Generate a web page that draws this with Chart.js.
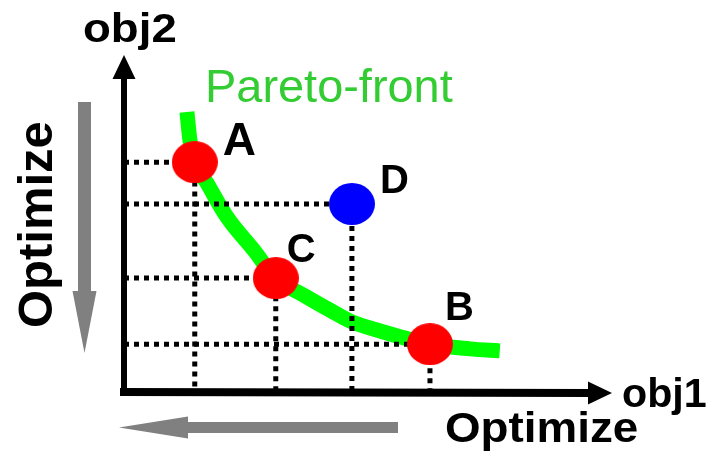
<!DOCTYPE html>
<html lang="en">
<head>
<meta charset="UTF-8">
<title>Pareto-front</title>
<script src="https://cdn.jsdelivr.net/npm/chart.js"></script>
<style>
  html, body { margin: 0; padding: 0; background: #fff; }
</style>
</head>
<body>
<canvas id="pareto" width="715" height="453"></canvas>
<script>
// solutions in objective space (both objectives minimised), axes run 0..100
const pointNames = ['A', 'B', 'C', 'D'];
const obj1Values = [14.5, 62.7, 31.1, 46.7];
const obj2Values = [68.2, 14.2, 33.8, 55.8];
const pointColors = ['#ff0000', '#ff0000', '#ff0000', '#0000ff'];

// samples along the Pareto-front curve
const frontObj1 = [12.9, 13.5, 14.5, 17.0, 21.1, 26.6, 31.1, 37.1, 42.2, 46.7, 52.5, 62.7, 70.9, 77.0];
const frontObj2 = [83.1, 74.8, 68.2, 62.0, 51.9, 42.1, 33.8, 28.5, 24.3, 20.8, 18.1, 14.2, 12.8, 12.2];

const FONT = '"Liberation Sans", Arial, Helvetica, sans-serif';

// filled ellipse used as point marker
function ellipseMarker(color) {
    const c = document.createElement('canvas');
    c.width = 46;
    c.height = 42;
    const g = c.getContext('2d');
    g.fillStyle = color;
    g.beginPath();
    g.ellipse(23, 21, 23, 21, 0, 0, Math.PI * 2);
    g.fill();
    return c;
}

// one dotted guide per point: from the obj2 axis to the point, then down to the obj1 axis
const guideSets = pointNames.map((name, i) => ({
    type: 'line',
    label: 'guide ' + name,
    data: [
        { x: 0, y: obj2Values[i] },
        { x: obj1Values[i], y: obj2Values[i] },
        { x: obj1Values[i], y: 0 }
    ],
    borderColor: '#000',
    borderWidth: 5,
    borderDash: [5, 5],
    borderCapStyle: 'butt',
    pointRadius: 0,
    tension: 0,
    clip: false,
    order: 2
}));

function arrow(ctx, x0, y0, x1, y1, shaftW, headLen, headHalf, color) {
    const dx = x1 - x0, dy = y1 - y0;
    const len = Math.hypot(dx, dy);
    const ux = dx / len, uy = dy / len;
    const bx = x1 - ux * headLen, by = y1 - uy * headLen;
    ctx.save();
    ctx.strokeStyle = color;
    ctx.fillStyle = color;
    ctx.lineWidth = shaftW;
    ctx.lineCap = 'butt';
    ctx.beginPath();
    ctx.moveTo(x0, y0);
    ctx.lineTo(bx + ux, by + uy);
    ctx.stroke();
    ctx.beginPath();
    ctx.moveTo(x1, y1);
    ctx.lineTo(bx - uy * headHalf, by + ux * headHalf);
    ctx.lineTo(bx + uy * headHalf, by - ux * headHalf);
    ctx.closePath();
    ctx.fill();
    ctx.restore();
}

// text drawn from its left end on the baseline, with optional horizontal stretch
function stretchText(ctx, str, x, y, font, color, sx, angle) {
    ctx.save();
    ctx.translate(x, y);
    if (angle) ctx.rotate(angle);
    ctx.scale(sx || 1, 1);
    ctx.font = font;
    ctx.fillStyle = color;
    ctx.textAlign = 'left';
    ctx.textBaseline = 'alphabetic';
    ctx.fillText(str, 0, 0);
    ctx.restore();
}

const decor = {
    id: 'decor',
    afterDraw(chart) {
        const ctx = chart.ctx;
        const xs = chart.scales.x, ys = chart.scales.y;
        const ox = xs.getPixelForValue(0), oy = ys.getPixelForValue(0);

        // objective axes
        arrow(ctx, ox, oy + 4, ox, ys.getPixelForValue(100), 6, 24, 11.5, '#000');
        arrow(ctx, ox - 4, oy, xs.getPixelForValue(100), oy + 1, 8, 24, 11.5, '#000');

        // optimisation direction arrows
        arrow(ctx, 84.5, 102, 84.5, 353, 13, 62, 12, '#808080');
        arrow(ctx, 398, 427.5, 119, 427.5, 11, 69, 11, '#808080');

        stretchText(ctx, 'obj2', 83, 42, 'bold 40px ' + FONT, '#000', 1.14);
        stretchText(ctx, 'obj1', 622, 407, 'bold 40px ' + FONT, '#000', 1.03);
        stretchText(ctx, 'Pareto-front', 205, 102, '46px ' + FONT, 'rgb(51,204,51)', 1.02);
        stretchText(ctx, 'Optimize', 445, 442, 'bold 42px ' + FONT, '#000', 1.09);
        stretchText(ctx, 'Optimize', 52, 328, 'bold 48px ' + FONT, '#000', 1.02, -Math.PI / 2);

        // point names next to each marker
        const meta = chart.getDatasetMeta(0);
        const offsets = [[28, -7, 46], [15, -24, 40], [11, -16, 40], [28, -11, 40]];
        meta.data.forEach((pt, i) => {
            const [dx, dy, size] = offsets[i];
            stretchText(ctx, pointNames[i], pt.x + dx, pt.y + dy, 'bold ' + size + 'px ' + FONT, '#000', 1.0);
        });
    }
};

new Chart(document.getElementById('pareto'), {
    type: 'scatter',
    data: {
        datasets: [
            {
                label: 'solutions',
                data: obj1Values.map((x, i) => ({ x: x, y: obj2Values[i] })),
                pointStyle: pointColors.map(ellipseMarker),
                backgroundColor: pointColors,
                showLine: false,
                clip: false,
                order: 0
            },
            ...guideSets,
            {
                type: 'line',
                label: 'Pareto-front',
                data: frontObj1.map((x, i) => ({ x: x, y: frontObj2[i] })),
                borderColor: '#00ff00',
                borderWidth: 15,
                borderCapStyle: 'butt',
                cubicInterpolationMode: 'monotone',
                pointRadius: 0,
                clip: false,
                order: 3
            }
        ]
    },
    options: {
        responsive: false,
        animation: false,
        events: [],
        layout: { padding: { left: 124, right: 103, top: 55, bottom: 61 } },
        scales: {
            x: { type: 'linear', min: 0, max: 100, display: false },
            y: { type: 'linear', min: 0, max: 100, display: false }
        },
        plugins: {
            legend: { display: false },
            tooltip: { enabled: false }
        }
    },
    plugins: [decor]
});
</script>
</body>
</html>
